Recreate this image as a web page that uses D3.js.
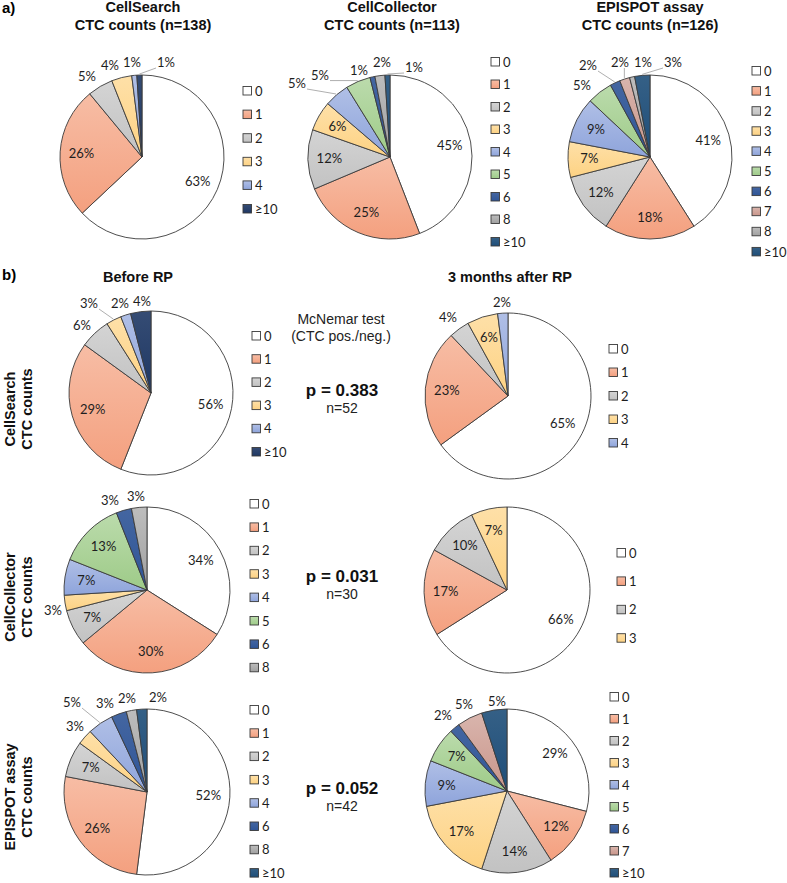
<!DOCTYPE html>
<html>
<head>
<meta charset="utf-8">
<script src="https://cdn.jsdelivr.net/npm/d3@7"></script>
<style>
  body { margin: 0; background: #fff; }
  svg { display: block; }
</style>
</head>
<body>
<svg id="chart" width="787" height="883"></svg>
<script>
// legend categories (CTC counts) and their fills
var catNames = ["0", "1", "2", "3", "4", "5", "6", "7", "8", "≥10"];
var catColors = ["#ffffff", "#f4a07f", "#c2c2c2", "#fdd283", "#8ea4db", "#9ecb88", "#2f5597", "#c9958a", "#a0a0a0", "#1f4e79"];
var navyTen = "#1f3864";

// a) all patients
var csAllCats = ["0", "1", "2", "3", "4", "≥10"];
var csAllVals = [63, 26, 5, 4, 1, 1];
var ccAllCats = ["0", "1", "2", "3", "4", "5", "6", "8", "≥10"];
var ccAllVals = [45, 25, 12, 6, 5, 5, 1, 2, 1];
var epAllCats = ["0", "1", "2", "3", "4", "5", "6", "7", "8", "≥10"];
var epAllVals = [41, 18, 12, 7, 9, 5, 2, 2, 1, 3];

// b) before RP / 3 months after RP
var csPreCats = ["0", "1", "2", "3", "4", "≥10"];
var csPreVals = [56, 29, 6, 3, 2, 4];
var csPostCats = ["0", "1", "2", "3", "4"];
var csPostVals = [65, 23, 4, 6, 2];
var ccPreCats = ["0", "1", "2", "3", "4", "5", "6", "8"];
var ccPreVals = [34, 30, 7, 3, 7, 13, 3, 3];
var ccPostCats = ["0", "1", "2", "3"];
var ccPostVals = [66, 17, 10, 7];
var epPreCats = ["0", "1", "2", "3", "4", "6", "8", "≥10"];
var epPreVals = [52, 26, 7, 3, 5, 3, 2, 2];
var epPostCats = ["0", "1", "2", "3", "4", "5", "6", "7", "≥10"];
var epPostVals = [29, 12, 14, 17, 9, 7, 2, 5, 5];

var pTexts = ["p = 0.383", "p = 0.031", "p = 0.052"];
var nTexts = ["n=52", "n=30", "n=42"];

// layout of each pie: centre, radius, legend, and offsets of the labels set outside
var panels = [
    { cats: csAllCats, vals: csAllVals, cx: 142, cy: 157, r: 82, navy: true,
      lx: 243, ly: 91, step: 23.6, out: { 2: [-55, -81], 3: [-32, -92], 4: [-10, -95], 5: [24, -95] } },
    { cats: ccAllCats, vals: ccAllVals, cx: 390, cy: 157, r: 82,
      lx: 491, ly: 62, step: 22.5, out: { 4: [-93, -74], 5: [-70, -82], 6: [-31, -87], 7: [-8, -95], 8: [24, -90] } },
    { cats: epAllCats, vals: epAllVals, cx: 650, cy: 157, r: 82,
      lx: 752, ly: 71, step: 20.1, out: { 5: [-68, -72], 6: [-62, -92], 7: [-30, -95], 8: [-7, -95], 9: [23, -95] } },
    { cats: csPreCats, vals: csPreVals, cx: 151, cy: 393, r: 82, navy: true,
      lx: 252, ly: 336, step: 23.2, out: { 2: [-69, -68], 3: [-62, -90], 4: [-31, -90], 5: [-9, -92] } },
    { cats: csPostCats, vals: csPostVals, cx: 508, cy: 396, r: 83,
      lx: 609, ly: 349, step: 23.5, out: { 2: [-60, -79], 4: [-6, -94] } },
    { cats: ccPreCats, vals: ccPreVals, cx: 147, cy: 590, r: 83,
      lx: 250, ly: 504, step: 23.4, out: { 3: [-94, 20], 6: [-37, -90], 7: [-11, -94] } },
    { cats: ccPostCats, vals: ccPostVals, cx: 507, cy: 590, r: 83,
      lx: 617, ly: 553, step: 28.4, out: {} },
    { cats: epPreCats, vals: epPreVals, cx: 147, cy: 792, r: 83,
      lx: 250, ly: 710, step: 23.3, out: { 3: [-72, -66], 4: [-75, -90], 5: [-42, -89], 6: [-20, -94], 7: [11, -95] } },
    { cats: epPostCats, vals: epPostVals, cx: 507, cy: 791, r: 82,
      lx: 610, ly: 697, step: 22, out: { 6: [-64, -76], 7: [-43, -87], 8: [-10, -90] } }
];

var svg = d3.select("#chart");
var defs = svg.append("defs");
var color = d3.scaleOrdinal(catNames, catColors);

// soft vertical gradient like the office fills, weaker on the dark blues
function gradId(c) { return "g" + c.replace("#", ""); }
var allColors = catColors.concat([navyTen]);
allColors.forEach(function (c) {
    var dark = d3.hsl(c).l < 0.45;
    var g = defs.append("linearGradient").attr("id", gradId(c))
        .attr("x1", 0).attr("y1", 0).attr("x2", 0).attr("y2", 1);
    g.append("stop").attr("offset", "0%").attr("stop-color", d3.interpolateRgb(c, "#ffffff")(dark ? 0.1 : 0.3));
    g.append("stop").attr("offset", "100%").attr("stop-color", c);
});

function fillFor(p, cat) {
    var c = (p.navy && cat == "≥10") ? navyTen : color(cat);
    return "url(#" + gradId(c) + ")";
}

var pie = d3.pie().sort(null).value(function (d) { return d.v; });
var labelFont = "Lato, 'Open Sans', sans-serif";

panels.forEach(function (p) {
    var data = p.cats.map(function (c, i) { return { cat: c, v: p.vals[i] }; });
    var arcs = pie(data);
    var arc = d3.arc().innerRadius(0).outerRadius(p.r);
    var labelArc = d3.arc().innerRadius(p.r * 0.74).outerRadius(p.r * 0.74);
    var edgeArc = d3.arc().innerRadius(p.r + 1).outerRadius(p.r + 1);

    var g = svg.append("g").attr("transform", "translate(" + p.cx + "," + p.cy + ")");
    g.selectAll("path.slice").data(arcs).enter().append("path")
        .attr("class", "slice")
        .attr("d", arc)
        .attr("fill", function (d) { return fillFor(p, d.data.cat); })
        .attr("stroke", "#3a3a3a")
        .attr("stroke-width", 0.9)
        .attr("stroke-linejoin", "round");

    var lab = g.selectAll("text.pct").data(arcs).enter().append("text")
        .attr("class", "pct")
        .attr("font-family", labelFont)
        .attr("font-size", 13)
        .attr("fill", "#1e1e1e")
        .attr("text-anchor", "middle")
        .attr("dy", "0.35em")
        .attr("transform", function (d, i) {
            var o = p.out[i];
            var pt = o ? o : labelArc.centroid(d);
            return "translate(" + pt[0] + "," + pt[1] + ")";
        })
        .text(function (d) { return d.data.v + "%"; });

    // leader lines for outside labels that sit away from their slice
    lab.each(function (d, i) {
        var o = p.out[i];
        if (!o) return;
        var w = this.getComputedTextLength();
        var e = edgeArc.centroid(d);
        var qx = Math.max(o[0] - w / 2 - 1, Math.min(e[0], o[0] + w / 2 + 1));
        var qy = Math.max(o[1] - 6, Math.min(e[1], o[1] + 6));
        var dist = Math.hypot(qx - e[0], qy - e[1]);
        if (dist > 9) {
            g.insert("line", "text")
                .attr("x1", e[0]).attr("y1", e[1])
                .attr("x2", qx).attr("y2", qy)
                .attr("stroke", "#a6a6a6")
                .attr("stroke-width", 0.9);
        }
    });

    // legend
    var leg = svg.append("g").selectAll("g").data(p.cats).enter().append("g")
        .attr("transform", function (d, i) { return "translate(" + p.lx + "," + (p.ly + i * p.step) + ")"; });
    leg.append("rect")
        .attr("x", 0).attr("y", -4.5).attr("width", 8.5).attr("height", 8.5)
        .attr("fill", function (d) { return fillFor(p, d); })
        .attr("stroke", "#3a3a3a").attr("stroke-width", 0.9);
    leg.append("text")
        .attr("x", 12).attr("dy", "0.36em")
        .attr("font-family", labelFont)
        .attr("font-size", 13)
        .attr("fill", "#1e1e1e")
        .text(function (d) { return d; });
});

// titles
var bold = "'Liberation Sans', Arial, sans-serif";
function title(x, y, lines, size) {
    var t = svg.append("text").attr("x", x).attr("y", y)
        .attr("text-anchor", "middle").attr("font-family", bold)
        .attr("font-weight", "bold").attr("font-size", size).attr("fill", "#111");
    lines.forEach(function (l, i) {
        t.append("tspan").attr("x", x).attr("dy", i == 0 ? 0 : 18).text(l);
    });
}
title(143, 12, ["CellSearch", "CTC counts (n=138)"], 14.5);
title(392, 12, ["CellCollector", "CTC counts (n=113)"], 14.5);
title(650, 12, ["EPISPOT assay", "CTC counts (n=126)"], 14.5);
title(138, 282, ["Before RP"], 14.5);
title(510, 282, ["3 months after RP"], 14.5);

svg.append("text").attr("x", 2).attr("y", 13).attr("font-family", bold)
    .attr("font-weight", "bold").attr("font-size", 15).text("a)");
svg.append("text").attr("x", 2).attr("y", 280).attr("font-family", bold)
    .attr("font-weight", "bold").attr("font-size", 15).text("b)");

// row labels (rotated)
var rowNames = [["CellSearch", "CTC counts"], ["CellCollector", "CTC counts"], ["EPISPOT assay", "CTC counts"]];
var rowCentres = [409, 597, 797];
rowNames.forEach(function (lines, i) {
    var t = svg.append("text")
        .attr("transform", "translate(15," + rowCentres[i] + ") rotate(-90)")
        .attr("text-anchor", "middle").attr("font-family", bold)
        .attr("font-weight", "bold").attr("font-size", 14.5).attr("fill", "#111");
    lines.forEach(function (l, j) {
        t.append("tspan").attr("x", 0).attr("y", j * 17).text(l);
    });
});

// McNemar test column
svg.append("text").attr("x", 341).attr("y", 324).attr("text-anchor", "middle")
    .attr("font-family", bold).attr("font-size", 14).attr("fill", "#222").text("McNemar test");
svg.append("text").attr("x", 341).attr("y", 341).attr("text-anchor", "middle")
    .attr("font-family", bold).attr("font-size", 14).attr("fill", "#222").text("(CTC pos./neg.)");
var pY = [396, 582, 794];
pTexts.forEach(function (t, i) {
    svg.append("text").attr("x", 342).attr("y", pY[i]).attr("text-anchor", "middle")
        .attr("font-family", bold).attr("font-weight", "bold").attr("font-size", 17)
        .attr("fill", "#111").text(t);
    svg.append("text").attr("x", 342).attr("y", pY[i] + 17).attr("text-anchor", "middle")
        .attr("font-family", bold).attr("font-size", 14).attr("fill", "#222").text(nTexts[i]);
});
</script>
</body>
</html>
